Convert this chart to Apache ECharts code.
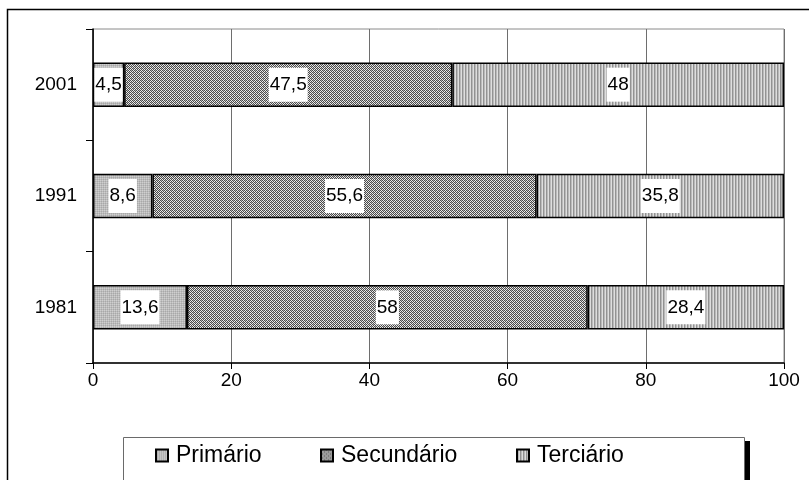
<!DOCTYPE html>
<html>
<head>
<meta charset="utf-8">
<script src="https://cdn.jsdelivr.net/npm/echarts@6/dist/echarts.min.js"></script>
<style>
  html, body { margin: 0; padding: 0; background: #fff; }
  #chart { width: 809px; height: 480px; }
</style>
</head>
<body>
<div id="chart"></div>
<script>
// Sector shares (%) by census year
const years = ['1981', '1991', '2001'];
const primario = [13.6, 8.6, 4.5];
const secundario = [58, 55.6, 47.5];
const terciario = [28.4, 35.8, 48];
const seriesNames = ['Primário', 'Secundário', 'Terciário'];
const xTicks = [0, 20, 40, 60, 80, 100];

// Small tiled canvases used as hatch fills
function makeTile(w, h, painter) {
  const c = document.createElement('canvas');
  c.width = w; c.height = h;
  const ctx = c.getContext('2d');
  painter(ctx);
  return c;
}
const dotFill = makeTile(2, 2, ctx => {
  ctx.fillStyle = '#bcbcbc'; ctx.fillRect(0, 0, 2, 2);
  ctx.fillStyle = '#cfcfcf'; ctx.fillRect(0, 0, 1, 1);
  ctx.fillStyle = '#a8a8a8'; ctx.fillRect(1, 1, 1, 1);
});
const checkFill = makeTile(4, 4, ctx => {
  ctx.fillStyle = '#ececec'; ctx.fillRect(0, 0, 4, 4);
  ctx.fillStyle = '#4a4a4a';
  for (let y = 0; y < 4; y++) {
    for (let x = 0; x < 4; x++) {
      if ((x + y) % 2 === 0) ctx.fillRect(x, y, 1, 1);
    }
  }
  ctx.fillStyle = '#b0b0b0'; ctx.fillRect(1, 0, 1, 1); ctx.fillRect(3, 2, 1, 1);
});
const stripeFill = makeTile(3, 2, ctx => {
  ctx.fillStyle = '#dedede'; ctx.fillRect(0, 0, 3, 2);
  ctx.fillStyle = '#929292'; ctx.fillRect(0, 0, 1, 2);
  ctx.fillStyle = '#bababa'; ctx.fillRect(1, 0, 1, 2);
});
const fills = [dotFill, checkFill, stripeFill];
const values = [primario, secundario, terciario];

const fmt = v => String(v).replace('.', ',');

const chart = echarts.init(document.getElementById('chart'), null, { renderer: 'canvas' });

const FONT = 'Liberation Sans, Arial, sans-serif';
const legendLefts = [155, 320, 516];

chart.setOption({
  animation: false,
  backgroundColor: '#fff',
  textStyle: { fontFamily: FONT },
  graphic: [
    { type: 'rect', z: -10, silent: true,
      shape: { x: 7.5, y: 9.5, width: 810, height: 480 },
      style: { fill: 'none', stroke: '#000', lineWidth: 1.5 } },
    // legend frame and its drop shadow
    { type: 'rect', z: 0, silent: true,
      shape: { x: 745, y: 441, width: 5, height: 40 },
      style: { fill: '#000' } },
    { type: 'rect', z: 1, silent: true,
      shape: { x: 123.5, y: 437.5, width: 621, height: 50 },
      style: { fill: '#fff', stroke: '#6a6a6a', lineWidth: 1 } }
  ],
  grid: { left: 93, right: 25, top: 29, bottom: 117, show: true,
          borderColor: '#8a8a8a', borderWidth: 1 },
  legend: seriesNames.map((name, i) => ({
    data: [name],
    left: legendLefts[i], top: 444,
    padding: 0,
    itemWidth: 12, itemHeight: 12,
    itemGap: 0,
    z: 5,
    textStyle: { fontFamily: FONT, fontSize: 23, color: '#000', padding: [0, 0, 0, 3] },
    icon: 'rect',
    selectedMode: false
  })),
  xAxis: {
    type: 'value', min: 0, max: 100, interval: 20,
    axisLine: { show: true, lineStyle: { color: '#000', width: 1.5 } },
    axisTick: { show: true, length: 6, lineStyle: { color: '#000' } },
    splitLine: { show: true, lineStyle: { color: '#6e6e6e', width: 1 } },
    axisLabel: { color: '#000', fontSize: 19, margin: 8, fontFamily: FONT,
                 formatter: v => xTicks.includes(v) ? String(v) : '' }
  },
  yAxis: {
    type: 'category', data: years,
    axisLine: { show: true, onZero: false, lineStyle: { color: '#000', width: 1.5 } },
    axisTick: { show: true, length: 7, lineStyle: { color: '#000' } },
    splitLine: { show: false },
    axisLabel: { color: '#000', fontSize: 19, margin: 16, fontFamily: FONT }
  },
  series: seriesNames.map((name, i) => ({
    name, type: 'bar', stack: 'total', barWidth: '40%',
    data: values[i],
    itemStyle: { color: { image: fills[i], repeat: 'repeat' }, borderColor: '#000', borderWidth: 1.5 },
    label: {
      show: true, position: 'inside',
      formatter: p => fmt(p.value),
      color: '#000', fontSize: 19, fontFamily: FONT,
      backgroundColor: '#fff', padding: [8, 1, 7, 1]
    }
  }))
});
</script>
</body>
</html>
